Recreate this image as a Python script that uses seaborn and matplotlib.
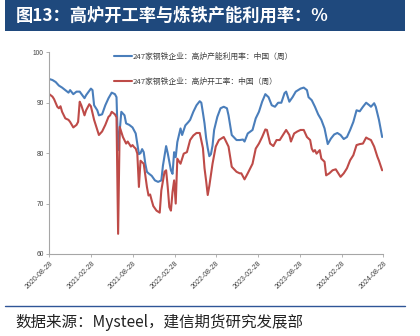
import numpy as np
import pandas as pd
import matplotlib
matplotlib.use("Agg")
import matplotlib.pyplot as plt
import seaborn as sns
from matplotlib.lines import Line2D
from matplotlib.patches import Rectangle

# ---------------- data (week offsets from 2020-08-28, values in %) ----------------
start_date = "2020-08-28"
cap_weeks = [0, 2, 4, 6, 8, 10, 12, 13, 15, 17, 19, 22, 23, 26, 27, 28, 30, 31, 33, 35,
             37, 39, 41, 42, 43, 45, 47, 48, 50, 52, 54, 56, 57, 58, 59, 60, 61, 62, 64, 66,
             68, 70, 71, 73, 74, 76, 77, 78, 79, 80, 82, 83, 85, 87, 88, 90, 92, 94, 95, 96,
             97, 98, 99, 100, 101, 102, 103, 105, 107, 109, 111, 112, 114, 117, 119, 121, 122, 124, 127, 129,
             131, 133, 135, 137, 139, 141, 143, 145, 147, 148, 150, 152, 154, 157, 159, 161, 162, 164, 166, 168,
             170, 172, 174, 176, 178, 180, 182, 184, 186, 188, 190, 192, 194, 196, 198, 200, 201, 203, 204, 206,
             208]
cap_util = [94.7, 94.5, 94.1, 93.4, 93.0, 92.5, 92.0, 92.5, 91.7, 92.2, 92.2, 90.9, 91.5, 92.8, 92.5, 89.5, 88.5, 87.5, 87.7, 89.5,
            90.9, 92.0, 91.7, 91.1, 80.6, 88.2, 87.5, 85.9, 85.6, 85.1, 83.9, 79.8, 80.0, 80.8, 80.2, 77.9, 76.3, 76.0, 75.5, 74.6,
            74.3, 74.6, 77.5, 81.4, 80.0, 76.6, 75.9, 80.2, 79.2, 82.2, 84.9, 83.6, 85.5, 86.2, 86.6, 88.2, 89.5, 90.3, 90.0, 88.0,
            85.9, 83.0, 81.0, 79.4, 79.8, 81.5, 84.6, 87.2, 88.9, 89.2, 88.9, 87.5, 83.6, 82.6, 82.6, 82.7, 82.3, 83.9, 84.6, 86.9,
            88.2, 90.2, 91.7, 91.1, 89.5, 89.2, 90.0, 90.0, 91.9, 92.2, 90.2, 91.1, 92.2, 92.8, 93.0, 92.5, 91.1, 90.5, 89.2, 87.7,
            86.6, 84.9, 81.8, 82.9, 83.7, 84.0, 83.6, 82.8, 83.2, 84.6, 86.2, 88.5, 88.3, 89.2, 90.0, 89.5, 89.2, 89.9, 89.2, 86.6,
            83.2]

op_weeks = [0, 2, 3, 5, 6, 7, 8, 10, 12, 13, 15, 17, 18, 19, 20, 22, 23, 25, 26, 28,
            29, 31, 33, 35, 37, 38, 39, 41, 42, 43, 44, 46, 48, 49, 51, 52, 53, 54, 55, 56,
            57, 59, 61, 62, 63, 64, 65, 67, 69, 70, 72, 73, 74, 75, 76, 77, 78, 79, 80, 82,
            84, 86, 88, 90, 92, 94, 96, 97, 98, 99, 100, 102, 104, 106, 109, 110, 112, 114, 117, 119,
            120, 122, 124, 127, 129, 131, 133, 135, 136, 138, 140, 142, 144, 146, 148, 150, 151, 153, 155, 157,
            159, 161, 163, 164, 165, 166, 167, 169, 170, 172, 173, 175, 177, 179, 180, 182, 184, 186, 188, 190,
            192, 194, 196, 198, 199, 201, 203, 205, 206, 208]
op_rate = [91.7, 91.2, 90.7, 89.2, 88.9, 89.3, 88.2, 86.9, 86.6, 86.2, 85.1, 85.6, 86.2, 90.2, 89.5, 87.5, 88.5, 89.7, 89.3, 86.6,
           85.6, 83.6, 84.3, 85.6, 87.2, 87.5, 88.2, 87.7, 87.1, 64.0, 85.2, 83.2, 81.9, 82.3, 81.3, 81.6, 81.2, 80.9, 79.9, 73.3,
           78.5, 77.9, 73.3, 71.6, 71.8, 70.6, 69.5, 68.6, 68.2, 72.6, 76.3, 76.6, 73.3, 69.3, 68.6, 72.3, 74.6, 70.0, 78.9, 77.9,
           79.9, 80.2, 82.6, 83.5, 84.0, 84.0, 81.0, 77.0, 74.5, 71.7, 73.5, 77.9, 81.3, 82.6, 83.2, 82.6, 81.3, 77.3, 76.3, 76.0,
           76.0, 74.8, 76.0, 77.9, 80.9, 81.9, 83.2, 84.7, 84.6, 81.9, 81.4, 82.6, 82.6, 83.6, 84.6, 83.6, 82.3, 83.9, 84.3, 84.6,
           84.6, 83.2, 82.6, 80.9, 80.3, 80.6, 79.9, 80.6, 78.9, 78.3, 75.6, 76.0, 76.6, 76.8, 76.3, 75.3, 76.0, 77.0, 78.6, 79.6,
           81.6, 81.8, 81.9, 83.1, 82.9, 82.6, 81.3, 79.3, 78.5, 76.6]

series_labels = ["247家钢铁企业：高炉产能利用率：中国（周）", "247家钢铁企业：高炉开工率：中国（周）"]
tick_labels = ["2020-08-28", "2021-02-28", "2021-08-28", "2022-02-28", "2022-08-28",
               "2023-02-28", "2023-08-28", "2024-02-28", "2024-08-28"]
y_ticks = [60, 70, 80, 90, 100]
title = "图13：高炉开工率与炼铁产能利用率：%"
source = "数据来源：Mysteel，建信期货研究发展部"

# ---------------- build frame ----------------
t0 = pd.Timestamp(start_date)
df = pd.concat([
    pd.DataFrame({"date": t0 + pd.to_timedelta(np.array(cap_weeks) * 7, unit="D"),
                  "value": cap_util, "series": series_labels[0]}),
    pd.DataFrame({"date": t0 + pd.to_timedelta(np.array(op_weeks) * 7, unit="D"),
                  "value": op_rate, "series": series_labels[1]}),
])

sns.set_theme(style="white")
plt.rcParams["font.family"] = ["Noto Sans CJK SC", "DejaVu Sans"]
plt.rcParams["axes.unicode_minus"] = False

W, H = 420, 336
fig = plt.figure(figsize=(W / 100, H / 100), dpi=100)
fig.patch.set_facecolor("white")

ax = fig.add_axes([49.3 / W, 1 - 254 / H, (383.3 - 49.3) / W, (254 - 52.3) / H])
palette = {series_labels[0]: "#4a7ebb", series_labels[1]: "#be4b48"}
sns.lineplot(data=df, x="date", y="value", hue="series", palette=palette,
             linewidth=1.5, ax=ax, legend=False)

ax.set_xlim(pd.Timestamp(tick_labels[0]), pd.Timestamp(tick_labels[-1]))
ax.set_ylim(60, 100)
ax.set_yticks(y_ticks)
ax.set_yticklabels([str(v) for v in y_ticks], fontsize=4.8, color="#404040",
                   family=["Liberation Sans", "DejaVu Sans"])
ax.set_xticks([pd.Timestamp(t) for t in tick_labels])
ax.set_xticklabels(tick_labels, rotation=45, ha="right", rotation_mode="anchor",
                   fontsize=5.0, color="#404040", family=["Liberation Sans", "DejaVu Sans"])
ax.set_xlabel("")
ax.set_ylabel("")
for s in ["top", "right"]:
    ax.spines[s].set_visible(False)
for s in ["left", "bottom"]:
    ax.spines[s].set_color("#a6a6a6")
    ax.spines[s].set_linewidth(0.8)
ax.tick_params(axis="both", which="major", length=2.5, width=0.6, color="#a6a6a6",
               pad=1.5, left=True, bottom=True, direction="out")
ax.grid(False)
ax.set_facecolor("white")

handles = [Line2D([0], [0], color=palette[l], lw=1.5) for l in series_labels]
ax.legend(handles, series_labels, loc="upper left", bbox_to_anchor=(114 / W, 1 - 52.5 / H),
          bbox_transform=fig.transFigure, frameon=False, fontsize=5.6,
          handlelength=2.3, handletextpad=0.15, labelspacing=2.15,
          borderpad=0, borderaxespad=0, labelcolor="#404040")

# title banner
fig.patches.append(Rectangle((5 / W, 1 - 31 / H), 400 / W, 31 / H, transform=fig.transFigure,
                             facecolor="#1f497d", edgecolor="none", zorder=0))
fig.text(16 / W, 1 - 15.5 / H, title, color="white", fontsize=12.4, fontweight="bold",
         va="center", ha="left")

# footer
fig.add_artist(Line2D([5 / W, 405 / W], [1 - 306 / H, 1 - 306 / H], transform=fig.transFigure,
                      color="#2f5597", lw=1.0))
fig.text(15 / W, 1 - 322 / H, source, color="#222222", fontsize=11.2, style="italic",
         va="center", ha="left")

fig.savefig("out.png", dpi=100, facecolor="white")
